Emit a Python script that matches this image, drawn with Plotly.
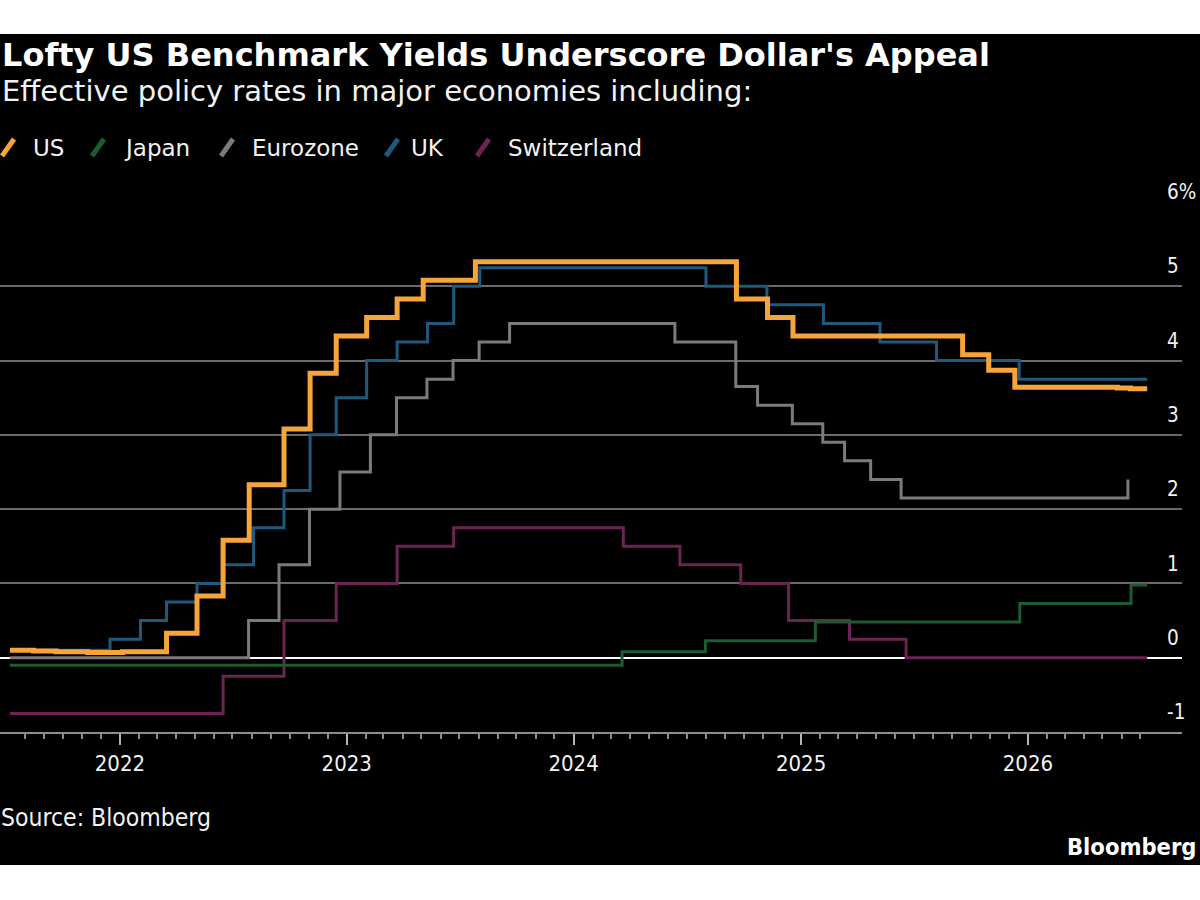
import plotly.graph_objects as go
import pandas as pd

# ---------------- data ----------------
us_dates = ["2021-07-08", "2021-08-15", "2021-09-20", "2021-11-10", "2022-01-05", "2022-03-17",
            "2022-05-05", "2022-06-16", "2022-07-28", "2022-09-22", "2022-11-03", "2022-12-15",
            "2023-02-02", "2023-03-23", "2023-05-04", "2023-07-27", "2024-09-19", "2024-11-08",
            "2024-12-19", "2025-09-18", "2025-10-30", "2025-12-11", "2026-05-25", "2026-06-15",
            "2026-07-12"]
us_vals = [0.10, 0.09, 0.08, 0.07, 0.08, 0.33,
           0.83, 1.58, 2.33, 3.08, 3.83, 4.33,
           4.58, 4.83, 5.08, 5.33, 4.83, 4.58,
           4.33, 4.08, 3.87, 3.64, 3.63, 3.62,
           3.62]

jp_dates = ["2021-07-08", "2024-03-19", "2024-07-31", "2025-01-24", "2025-12-19", "2026-06-16", "2026-07-12"]
jp_vals = [-0.10, 0.08, 0.23, 0.48, 0.73, 0.98, 0.98]

ez_dates = ["2021-07-08", "2022-07-27", "2022-09-14", "2022-11-02", "2022-12-21", "2023-02-08",
            "2023-03-22", "2023-05-10", "2023-06-21", "2023-08-02", "2023-09-20", "2024-06-12",
            "2024-09-18", "2024-10-23", "2024-12-18", "2025-02-05", "2025-03-12", "2025-04-23",
            "2025-06-11", "2026-06-11"]
ez_vals = [0.00, 0.50, 1.25, 2.00, 2.50, 3.00,
           3.50, 3.75, 4.00, 4.25, 4.50, 4.25,
           3.65, 3.40, 3.15, 2.90, 2.65, 2.40,
           2.15, 2.40]

uk_dates = ["2021-07-08", "2021-12-16", "2022-02-03", "2022-03-17", "2022-05-05", "2022-06-16",
            "2022-08-04", "2022-09-22", "2022-11-03", "2022-12-15", "2023-02-02", "2023-03-23",
            "2023-05-11", "2023-06-22", "2023-08-03", "2024-08-01", "2024-11-07", "2025-02-06",
            "2025-05-08", "2025-08-07", "2025-12-18", "2026-07-12"]
uk_vals = [0.10, 0.25, 0.50, 0.75, 1.00, 1.25,
           1.75, 2.25, 3.00, 3.50, 4.00, 4.25,
           4.50, 5.00, 5.25, 5.00, 4.75, 4.50,
           4.25, 4.00, 3.75, 3.75]

ch_dates = ["2021-07-08", "2022-06-16", "2022-09-22", "2022-12-15", "2023-03-23", "2023-06-22",
            "2024-03-21", "2024-06-20", "2024-09-26", "2024-12-12", "2025-03-20", "2025-06-19",
            "2026-07-12"]
ch_vals = [-0.75, -0.25, 0.50, 1.00, 1.50, 1.75,
           1.50, 1.25, 1.00, 0.50, 0.25, 0.00,
           0.00]

series_names = ["US", "Japan", "Eurozone", "UK", "Switzerland"]
y_tick_vals = [-1, 0, 1, 2, 3, 4, 5, 6]
y_tick_text = ["-1", "0", "1", "2", "3", "4", "5", "6%"]

# ---------------- style ----------------
colors = {"US": "#F7A43B", "Japan": "#1E5C30", "Eurozone": "#7B7B7B",
          "UK": "#1D5A7E", "Switzerland": "#6C2553"}
widths = {"US": 5, "Japan": 3, "Eurozone": 3, "UK": 3, "Switzerland": 3}
data = {"US": (us_dates, us_vals), "Japan": (jp_dates, jp_vals), "Eurozone": (ez_dates, ez_vals),
        "UK": (uk_dates, uk_vals), "Switzerland": (ch_dates, ch_vals)}

W, H = 1200, 900
PL, PR, PT, PB = 0, 1182, 212, 732


def pxx(x):
    return (x - PL) / (PR - PL)


def pxy(y):
    return (PB - y) / (PB - PT)


fig = go.Figure()
for name in ["Switzerland", "Eurozone", "Japan", "UK", "US"]:
    d, v = data[name]
    fig.add_trace(go.Scatter(x=d, y=v, mode="lines", name=name, showlegend=False,
                             line=dict(color=colors[name], width=widths[name], shape="hv"),
                             hoverinfo="skip"))

minor_vals = [d.strftime("%Y-%m-%d") for d in pd.date_range("2021-08-01", "2026-07-01", freq="MS") if d.month != 1]

fig.update_layout(
    width=W, height=H,
    margin=dict(l=PL, r=W - PR, t=PT, b=H - PB, pad=0, autoexpand=False),
    paper_bgcolor="black", plot_bgcolor="black", showlegend=False,
    font=dict(family="DejaVu Sans", color="white"),
)
fig.update_xaxes(
    type="date", range=["2021-06-22", "2026-09-06"], tick0="2022-01-01", dtick="M12", tickformat="%Y",
    ticks="outside", ticklen=11, tickwidth=2, tickcolor="#b5b5b5",
    showline=True, linecolor="#8c8c8c", linewidth=2, showgrid=False, zeroline=False,
    tickfont=dict(family="DejaVu Sans Condensed, DejaVu Sans", size=22, color="#f2f2f2"),
    minor=dict(ticks="outside", ticklen=5, tickwidth=1.5, tickcolor="#8c8c8c",
               tickmode="array", tickvals=minor_vals, showgrid=False),
    fixedrange=True,
)
fig.update_yaxes(
    range=[-1, 6], tickmode="array", tickvals=y_tick_vals, ticktext=y_tick_text,
    side="right", showgrid=True, gridcolor="#6b6b6b", gridwidth=1.5,
    zeroline=True, zerolinecolor="#ffffff", zerolinewidth=2,
    ticks="", ticklabelposition="outside", ticklabelstandoff=-16, ticklabelshift=-20,
    tickfont=dict(family="DejaVu Sans Condensed, DejaVu Sans", size=20.5, color="#f2f2f2"),
    showline=False, fixedrange=True,
)

# white bands top and bottom
fig.add_shape(type="rect", xref="paper", yref="paper", x0=pxx(0), x1=pxx(1200), y0=pxy(0), y1=pxy(34),
              fillcolor="white", line_width=0, layer="below")
fig.add_shape(type="rect", xref="paper", yref="paper", x0=pxx(0), x1=pxx(1200), y0=pxy(865), y1=pxy(900),
              fillcolor="white", line_width=0, layer="below")

annots = []
annots.append(dict(text="<b>Lofty US Benchmark Yields Underscore Dollar's Appeal</b>",
                   x=pxx(1), y=pxy(55), font=dict(size=32, color="white")))
annots.append(dict(text="Effective policy rates in major economies including:",
                   x=pxx(1), y=pxy(91), font=dict(size=29, color="#f2f2f2")))

legend_icon_x = {"US": 2, "Japan": 92, "Eurozone": 221, "UK": 386, "Switzerland": 477}
legend_text_x = {"US": 32, "Japan": 123, "Eurozone": 251, "UK": 410, "Switzerland": 507}
for name in series_names:
    x0 = legend_icon_x[name]
    fig.add_shape(type="line", xref="paper", yref="paper",
                  x0=pxx(x0), y0=pxy(156), x1=pxx(x0 + 12), y1=pxy(139),
                  line=dict(color=colors[name], width=5))
    annots.append(dict(text=name, x=pxx(legend_text_x[name]), y=pxy(147.5),
                       font=dict(size=23, color="#f2f2f2")))

annots.append(dict(text="Source: Bloomberg", x=pxx(0), y=pxy(817),
                   font=dict(family="DejaVu Sans Condensed, DejaVu Sans", size=24.5, color="#f2f2f2")))
for a in annots:
    a.update(xref="paper", yref="paper", xanchor="left", yanchor="middle", showarrow=False, borderpad=0)
    fig.add_annotation(**a)
fig.add_annotation(text="<b>Bloomberg</b>", xref="paper", yref="paper", x=pxx(1197), y=pxy(847),
                   xanchor="right", yanchor="middle", showarrow=False, borderpad=0,
                   font=dict(family="DejaVu Sans Condensed, DejaVu Sans", size=23.5, color="white"))

fig.write_html("out.html")
